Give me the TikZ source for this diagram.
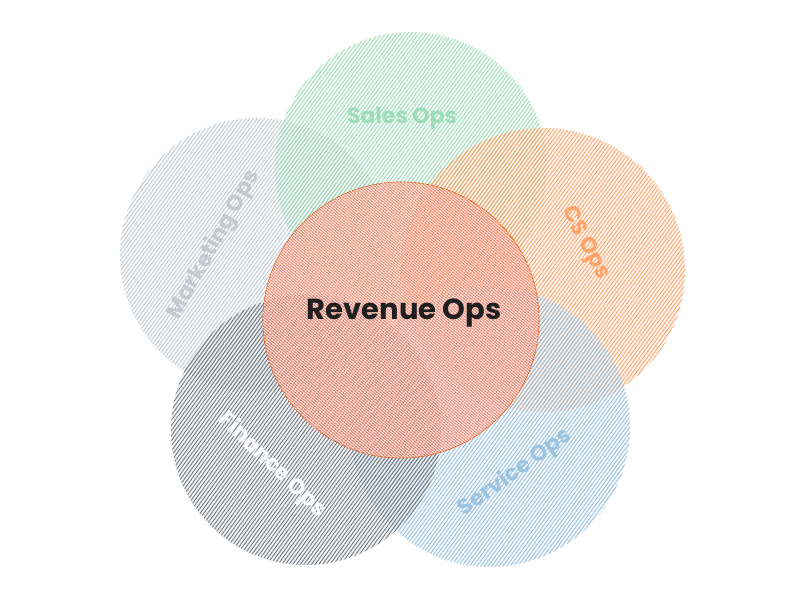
\documentclass[tikz,border=0pt]{standalone}
\usepackage{fontspec}
\setmainfont{Poppins}
\usetikzlibrary{patterns.meta}

\definecolor{salesgreen}{HTML}{9FDCBA}
\definecolor{mktgray}{HTML}{C3CAD1}
\definecolor{csorange}{HTML}{FFA46A}
\definecolor{servblue}{HTML}{9CC3E0}
\definecolor{fingray}{HTML}{727A82}
\definecolor{revred}{HTML}{FA8A76}
\definecolor{revline}{HTML}{E8590C}

\tikzset{
  opsdisk/.style={circle,inner sep=0pt,draw=none,fill opacity=0.6,
    pattern={Lines[angle=54,distance=3pt,line width=0.9pt]}},
  opslabel/.style={font=\bfseries\fontsize{22}{22}\selectfont,inner sep=0pt}
}

\begin{document}
\begin{tikzpicture}[x=1pt,y=1pt]
  \useasboundingbox (0,0) rectangle (800,600);
  % outer circles, back to front
  \foreach \name/\x/\y/\r/\col/\op in {marketing/257/345/137/mktgray/0.6,
      sales/411/432/136/salesgreen/0.6,cs/543/330/142/csorange/0.6,
      service/490/173/140/servblue/0.6,finance/306/170/135/fingray/0.85} {
    \node[opsdisk,minimum size=2*\r,pattern color=\col,fill opacity=\op,
      preaction={fill=\col,fill opacity=0.1}] (\name) at (\x,\y) {};
  }
  % centre circle
  \node[circle,inner sep=0pt,minimum size=276,draw=revline,line width=0.7pt,
    fill=revred,fill opacity=0.6,
    postaction={pattern={Lines[angle=50,distance=2.2pt,line width=0.5pt]},
      pattern color=revred!70!revline,fill opacity=0.45},
    postaction={pattern={Lines[angle=-40,distance=2.2pt,line width=0.5pt]},
      pattern color=white,fill opacity=0.3}] (revenue) at (401,280) {};
  % labels
  \foreach \name/\txt/\x/\y/\ang/\col in {marketing/Marketing Ops/214/355/61/mktgray,
      sales/Sales Ops/402/482/0/salesgreen,cs/CS Ops/585/357/-62/csorange,
      service/Service Ops/515/127/36/servblue,finance/Finance Ops/272/135/-44/white} {
    \node[opslabel,text=\col,rotate=\ang] (\name-label) at (\x,\y) {\txt};
  }
  \node[opslabel,font=\bfseries\fontsize{29}{29}\selectfont,text={black!88}]
    (revenue-label) at (404,287) {Revenue Ops};
\end{tikzpicture}
\end{document}
